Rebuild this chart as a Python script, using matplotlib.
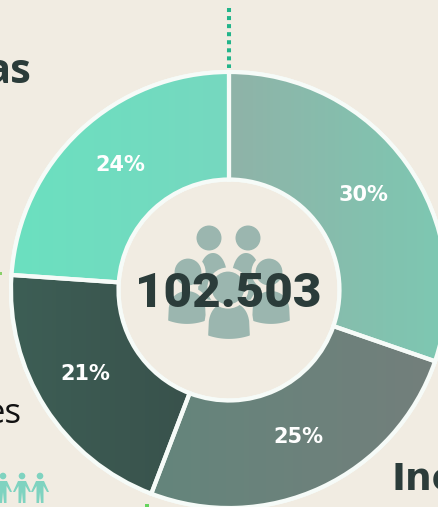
import numpy as np
import matplotlib
matplotlib.use("Agg")
import matplotlib.pyplot as plt
from matplotlib.patches import Circle, Polygon, Rectangle

W, H = 439, 507
BG = "#f1ece2"
share_values = [30.3, 25.5, 20.3, 23.9]
share_labels = ["30%", "25%", "21%", "24%"]
share_colors = ["#85bdac", "#6b827b", "#3b5a52", "#70dcc0"]
shade_left = ["#8fb3a8", "#64857b", "#3d5e55", "#6be0c0"]
shade_right = ["#7dc8b2", "#737f7c", "#39524c", "#76d8bf"]
label_nudge = [(0, -1), (0, 3), (-5, 5), (4, 4)]
center_total = "102.503"
left_word_top = "as"
left_word_mid = "es"
right_word = "Inc"

fig = plt.figure(figsize=(W / 100, H / 100), dpi=100, facecolor=BG)
ax = fig.add_axes([0, 0, 1, 1])
Y = lambda py: H - py
CX, CY, R, RH = 229, 290, 218, 110.5
EDGE = "#f6fbf8"

wedges, _, autotexts = ax.pie(
    share_values, colors=share_colors, startangle=90, counterclock=False,
    center=(CX, Y(CY)), radius=R, autopct="%d", pctdistance=0.757,
    wedgeprops=dict(width=R - RH, edgecolor=EDGE, linewidth=3),
)
ax.set_xlim(0, W)
ax.set_ylim(0, H)
ax.set_aspect("equal")
ax.axis("off")

# soft left-right shading inside each slice
for w, a, b in zip(wedges, shade_left, shade_right):
    ca, cb = np.array(matplotlib.colors.to_rgb(a)), np.array(matplotlib.colors.to_rgb(b))
    grad = np.linspace(0, 1, 64)[None, :, None] * (cb - ca) + ca
    bb = w.get_path().transformed(w.get_patch_transform()).get_extents()
    im = ax.imshow(grad, extent=[bb.x0, bb.x1, bb.y0, bb.y1], aspect="auto", zorder=1.5)
    im.set_clip_path(w.get_path(), w.get_patch_transform() + ax.transData)
    edge = matplotlib.patches.PathPatch(w.get_path(), transform=w.get_patch_transform() + ax.transData,
                                        fill=False, ec=EDGE, lw=3, zorder=1.6)
    ax.add_patch(edge)
ax.set_xlim(0, W)
ax.set_ylim(0, H)

for t, s, (nx, ny) in zip(autotexts, share_labels, label_nudge):
    t.set_text(s)
    x, y = t.get_position()
    t.set_position((x + nx, y + ny))
    t.set(color="white", fontsize=15, fontweight="bold", family="DejaVu Sans", zorder=3)

# people icon
ICON = "#9bb6af"
def body(x0, x1, ytop, ybot, zorder, outline=False):
    xs = np.linspace(-1, 1, 60)
    top = (1 - xs ** 2) ** 0.3
    mid = (x0 + x1) / 2
    half = (x1 - x0) / 2
    ysh = ybot - 4
    upper = np.c_[mid + half * xs, Y(ysh - (ysh - ytop) * top)]
    lower = np.c_[mid + half * xs[::-1], Y(ysh + 4 * (1 - xs[::-1] ** 2))]
    ax.add_patch(Polygon(np.r_[upper, lower], closed=True, fc=ICON,
                         ec=BG if outline else "none", lw=3 if outline else 0, zorder=zorder))

def head(x, y, r, zorder, outline=False):
    ax.add_patch(Circle((x, Y(y)), r, fc=ICON, ec=BG if outline else "none",
                        lw=3 if outline else 0, zorder=zorder))

for x in (209, 248):
    head(x, 238, 12.5, 4)
body(198, 228, 253, 300, 4)
body(231, 261, 253, 300, 4)
for x, x0, x1 in ((188, 166, 208), (269, 250, 292)):
    body(x0, x1, 289, 326, 5, True)
    head(x, 272, 15.5, 5, True)
body(206, 252, 300, 341, 6, True)
head(228, 288, 18.5, 6, True)

ax.text(228, Y(294), center_total, color="#2b3c3a", fontsize=35.5, fontweight="black",
        family="Roboto", ha="center", va="center", zorder=8)

ax.text(31, Y(83), left_word_top, color="#2b3c3a", fontsize=30, fontweight="bold",
        family="Open Sans", ha="right", va="baseline", zorder=8)
ax.text(21, Y(423), left_word_mid, color="#111111", fontsize=25,
        family="Open Sans", ha="right", va="baseline", zorder=8)
ax.text(392, Y(490), right_word, color="#2b3c3a", fontsize=27, fontweight="bold",
        family="DejaVu Sans", ha="left", va="baseline", zorder=8)

# dotted leaders
ax.plot([229, 229], [Y(8), Y(68)], color="#22b48a", lw=2.9, ls=(0, (1, 1)), zorder=2)
ax.add_patch(Rectangle((145, 0), 4, 3, fc="#66d45e", ec="none", zorder=2))
ax.add_patch(Rectangle((0, Y(275)), 2, 3, fc="#8ad06a", ec="none", zorder=2))

# small people
for x in (3, 22, 40):
    ax.add_patch(Circle((x, Y(476)), 3.3, fc="#7fd3c0", ec="none", zorder=3))
    ax.add_patch(Polygon([(x - 4, Y(481)), (x + 4, Y(481)), (x + 9, Y(492)), (x + 7, Y(492)),
                          (x + 3.5, Y(486)), (x + 3.5, Y(503)), (x + 1, Y(503)), (x, Y(492)),
                          (x - 1, Y(503)), (x - 3.5, Y(503)), (x - 3.5, Y(486)), (x - 7, Y(492)),
                          (x - 9, Y(492))], closed=True, fc="#7fd3c0", ec="none", zorder=3))

fig.savefig("out.png", dpi=100, facecolor=BG)
